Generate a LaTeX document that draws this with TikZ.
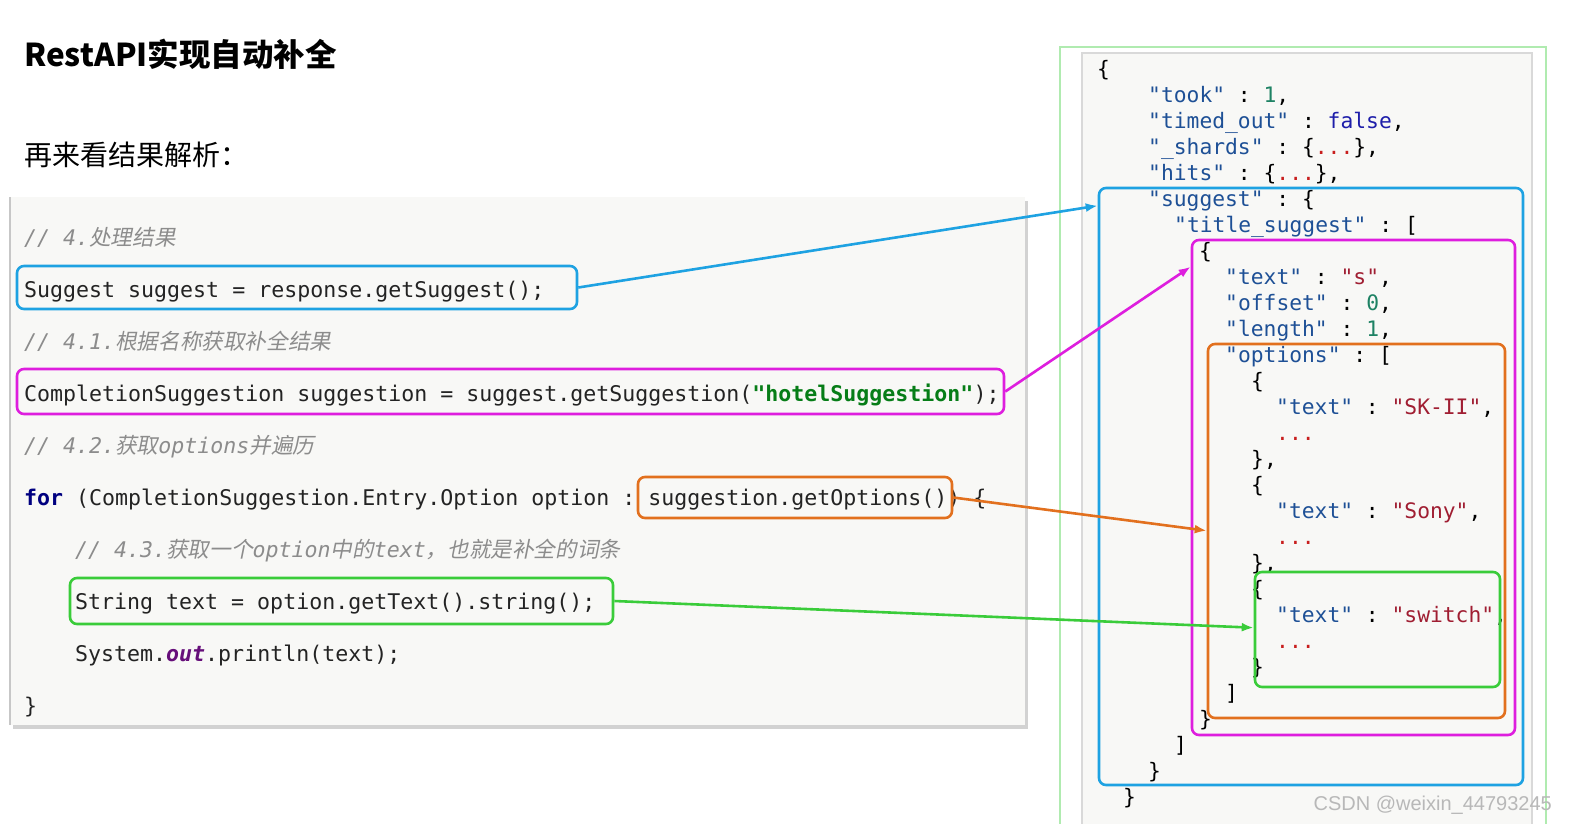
\documentclass[tikz,border=0pt]{standalone}
\usepackage{fontspec}
\setmonofont{DejaVu Sans Mono}
\newfontfamily\cjk{Noto Sans CJK SC}
\newfontfamily\cjkit[FakeSlant=0.2]{Noto Sans CJK SC}
\newfontfamily\marksans{Liberation Sans}
\usetikzlibrary{arrows.meta, fit, shadows}
\tikzset{>={Latex[length=12pt,width=9pt]}}

\definecolor{hlBlue}{RGB}{30,162,226}
\definecolor{hlMagenta}{RGB}{222,30,222}
\definecolor{hlOrange}{RGB}{226,112,30}
\definecolor{hlGreen}{RGB}{58,204,58}
\definecolor{codeBg}{RGB}{248,248,246}
\definecolor{codeInk}{RGB}{35,35,35}
\definecolor{cmtGray}{RGB}{140,140,140}
\definecolor{kwNavy}{RGB}{0,0,128}
\definecolor{strGreen}{RGB}{6,125,23}
\definecolor{fieldPurple}{RGB}{102,14,122}
\definecolor{jsonKey}{RGB}{30,80,150}
\definecolor{jsonNum}{RGB}{30,130,100}
\definecolor{jsonBool}{RGB}{30,30,170}
\definecolor{jsonStr}{RGB}{160,30,50}
\definecolor{jsonDots}{RGB}{200,30,30}

\newcommand{\cmt}[1]{\textcolor{cmtGray}{\itshape #1}}
\newcommand{\cmtcjk}[1]{\textcolor{cmtGray}{\cjkit #1}}
\newcommand{\jkey}[1]{\textcolor{jsonKey}{#1}}
\newcommand{\jstr}[1]{\textcolor{jsonStr}{#1}}
\newcommand{\jnum}[1]{\textcolor{jsonNum}{#1}}
\newcommand{\jbool}[1]{\textcolor{jsonBool}{#1}}
\newcommand{\jdots}{\textcolor{jsonDots}{...}}
\newcommand{\us}{\char"5F\relax}

\begin{document}
\begin{tikzpicture}[
    x = 1pt,
    y = -1pt,
    code/.style = {anchor = base west, inner sep = 0pt, text = codeInk,
      font = \ttfamily\fontsize{21.6}{26}\selectfont},
    json/.style = {anchor = base west, inner sep = 0pt, text = black,
      font = \ttfamily\fontsize{21.3}{26}\selectfont},
    hl/.style = {draw = #1, line width = 2.6pt, rounded corners = 7pt, inner sep = 0pt},
    link/.style = {->, draw = #1, line width = 2.6pt}
  ]
    \useasboundingbox (0,0) rectangle (1569,823);
    \fill[white] (0,0) rectangle (1569,823);

    % headings
    \node[anchor = base west, inner sep = 0pt] (title) at (24,66)
      {\cjk\bfseries\fontsize{31.5}{38}\selectfont RestAPI实现自动补全};
    \node[anchor = base west, inner sep = 0pt] (subtitle) at (24,165)
      {\cjk\fontsize{28}{34}\selectfont 再来看结果解析：};

    % java panel
    \fill[codeBg, drop shadow = {shadow xshift = 3pt, shadow yshift = -4pt, opacity = 0.35}]
      (10,197) rectangle (1025,725);
    \draw[black!22, line width = 2pt] (10,197) -- (10,725);

    \node[code] (cmtResult) at (24,245) {\cmt{// 4.}\cmtcjk{处理结果}};
    \node[code] (lineSuggest) at (24,297) {Suggest suggest = response.getSuggest();};
    \node[code] (cmtSuggestion) at (24,349) {\cmt{// 4.1.}\cmtcjk{根据名称获取补全结果}};
    \node[code] (lineSuggestion) at (24,401)
      {CompletionSuggestion suggestion = suggest.getSuggestion(\textbf{\textcolor{strGreen}{"hotelSuggestion"}});};
    \node[code] (cmtOptions) at (24,453) {\cmt{// 4.2.}\cmtcjk{获取}\cmt{options}\cmtcjk{并遍历}};
    \node[code] (lineFor) at (24,505)
      {\textbf{\textcolor{kwNavy}{for}} (CompletionSuggestion.Entry.Option option : suggestion.getOptions()) \{};
    \node[code] (cmtText) at (75,557)
      {\cmt{// 4.3.}\cmtcjk{获取一个}\cmt{option}\cmtcjk{中的}\cmt{text}\cmtcjk{，也就是补全的词条}};
    \node[code] (lineText) at (75,609) {String text = option.getText().string();};
    \node[code] (linePrint) at (75,661)
      {System.\textbf{\textit{\textcolor{fieldPurple}{out}}}.println(text);};
    \node[code] (lineEnd) at (24,713) {\}};

    \node[hl = hlBlue, fit = {(17,266) (577,309)}] (boxSuggest) {};
    \node[hl = hlMagenta, fit = {(17,369) (1004,414)}] (boxSuggestion) {};
    \node[hl = hlOrange, fit = {(638,477) (952,518)}] (boxOptions) {};
    \node[hl = hlGreen, fit = {(70,578) (613,624)}] (boxText) {};

    % json panel
    \filldraw[fill = white, draw = hlGreen!40, line width = 1.5pt] (1060,47) rectangle (1546,840);
    \filldraw[fill = codeBg, draw = black!15, line width = 1.2pt] (1082,53) rectangle (1532,840);

    \node[json] (j00) at (1097,76) {\{};
    \node[json] (j01) at (1148,102) {\jkey{"took"} : \jnum{1},};
    \node[json] (j02) at (1148,128) {\jkey{"timed\us out"} : \jbool{false},};
    \node[json] (j03) at (1148,154) {\jkey{"\us shards"} : \{\jdots\},};
    \node[json] (j04) at (1148,180) {\jkey{"hits"} : \{\jdots\},};
    \node[json] (j05) at (1148,206) {\jkey{"suggest"} : \{};
    \node[json] (j06) at (1174,232) {\jkey{"title\us suggest"} : [};
    \node[json] (j07) at (1199,258) {\{};
    \node[json] (j08) at (1225,284) {\jkey{"text"} : \jstr{"s"},};
    \node[json] (j09) at (1225,310) {\jkey{"offset"} : \jnum{0},};
    \node[json] (j10) at (1225,336) {\jkey{"length"} : \jnum{1},};
    \node[json] (j11) at (1225,362) {\jkey{"options"} : [};
    \node[json] (j12) at (1251,388) {\{};
    \node[json] (j13) at (1276,414) {\jkey{"text"} : \jstr{"SK-II"},};
    \node[json] (j14) at (1276,440) {\jdots};
    \node[json] (j15) at (1251,466) {\},};
    \node[json] (j16) at (1251,492) {\{};
    \node[json] (j17) at (1276,518) {\jkey{"text"} : \jstr{"Sony"},};
    \node[json] (j18) at (1276,544) {\jdots};
    \node[json] (j19) at (1251,570) {\},};
    \node[json] (j20) at (1251,596) {\{};
    \node[json] (j21) at (1276,622) {\jkey{"text"} : \jstr{"switch"},};
    \node[json] (j22) at (1276,648) {\jdots};
    \node[json] (j23) at (1251,674) {\}};
    \node[json] (j24) at (1225,700) {]};
    \node[json] (j25) at (1199,726) {\}};
    \node[json] (j26) at (1174,752) {]};
    \node[json] (j27) at (1148,778) {\}};
    \node[json] (j28) at (1123,804) {\}};

    \node[hl = hlBlue, fit = {(1099,188) (1523,785)}] (jsonSuggest) {};
    \node[hl = hlMagenta, fit = {(1192,240) (1515,735)}] (jsonHit) {};
    \node[hl = hlOrange, fit = {(1208,344) (1505,718)}] (jsonOptions) {};
    \node[hl = hlGreen, fit = {(1255,572) (1500,687)}] (jsonSwitch) {};

    % connectors
    \draw[link = hlBlue] (boxSuggest.east) -- ([yshift = -19pt]jsonSuggest.north west);
    \draw[link = hlMagenta] (boxSuggestion.east) -- ([yshift = -28pt]jsonHit.north west);
    \draw[link = hlOrange] (boxOptions.east) -- ([yshift = -188pt]jsonOptions.north west);
    \draw[link = hlGreen] (boxText.east) -- ([yshift = -57pt]jsonSwitch.north west);

    \node[anchor = base east, inner sep = 0pt, text = black!28] (mark) at (1552,810)
      {\marksans\fontsize{20}{24}\selectfont CSDN @weixin\us 44793245};
  \end{tikzpicture}
\end{document}
